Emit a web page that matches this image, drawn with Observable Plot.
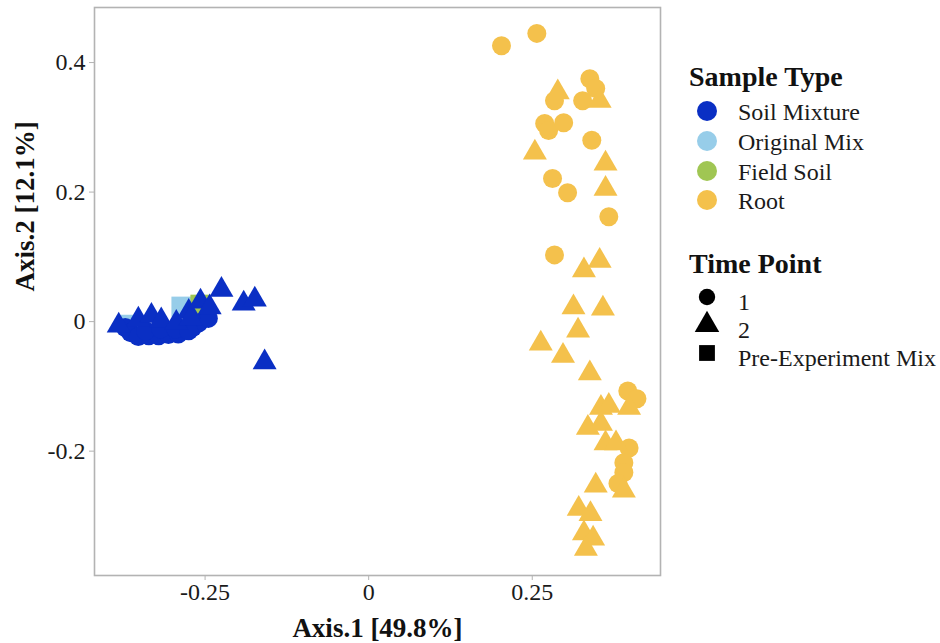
<!DOCTYPE html>
<html>
<head>
<meta charset="utf-8">
<script src="https://cdn.jsdelivr.net/npm/d3@7"></script>
<script src="https://cdn.jsdelivr.net/npm/@observablehq/plot@0.6"></script>
<style>
  html, body { margin: 0; padding: 0; background: white; }
  #wrap { position: relative; width: 940px; height: 643px; font-family: "Liberation Serif", serif; }
  #legend { position: absolute; left: 680px; top: 0; }
</style>
</head>
<body>
<div id="wrap"></div>
<script>
// ---- categories / styling keys ----
const sampleTypes = ["Soil Mixture", "Original Mix", "Field Soil", "Root"];
const sampleColors = ["#0a2fc4", "#97cde9", "#a0c653", "#f4c14c"];
const timePoints = ["1", "2", "Pre-Experiment Mix"];
const timeSymbols = ["circle", "triangle", "square"];

// ---- axis ticks ----
const xTicks = [-0.25, 0, 0.25];
const xTickLabels = ["-0.25", "0", "0.25"];
const yTicks = [-0.2, 0, 0.2, 0.4];
const yTickLabels = ["-0.2", "0", "0.2", "0.4"];
const xTitle = "Axis.1 [49.8%]";
const yTitle = "Axis.2 [12.1%]";

// ---- data: [Axis.1, Axis.2] ----
const originalMixPre = [[-0.286, 0.023], [-0.364, -0.005]];
const fieldSoilPre = [[-0.257, 0.026]];
const soilMixtureT1 = [
  [-0.372, -0.009], [-0.364, -0.017], [-0.352, -0.023], [-0.336, -0.022],
  [-0.321, -0.022], [-0.306, -0.020], [-0.291, -0.019], [-0.341, -0.014],
  [-0.318, -0.011], [-0.295, -0.011], [-0.269, -0.009], [-0.260, -0.002],
  [-0.245, 0.005], [-0.275, -0.014]
];
const soilMixtureT2 = [
  [-0.382, -0.006], [-0.352, 0.003], [-0.332, 0.009], [-0.317, 0.002],
  [-0.294, -0.002], [-0.275, 0.015], [-0.272, 0.005], [-0.257, 0.031],
  [-0.243, 0.022], [-0.225, 0.049], [-0.191, 0.028], [-0.174, 0.034],
  [-0.159, -0.063]
];
const rootT1 = [
  [0.203, 0.426], [0.257, 0.445], [0.338, 0.375], [0.347, 0.360],
  [0.327, 0.341], [0.284, 0.341], [0.269, 0.306], [0.275, 0.295],
  [0.298, 0.307], [0.341, 0.280], [0.281, 0.221], [0.304, 0.199],
  [0.367, 0.162], [0.284, 0.103], [0.396, -0.107], [0.410, -0.119],
  [0.398, -0.195], [0.390, -0.218], [0.390, -0.233], [0.381, -0.250]
];
const rootT2 = [
  [0.289, 0.354], [0.353, 0.341], [0.254, 0.261], [0.362, 0.244],
  [0.362, 0.205], [0.353, 0.094], [0.329, 0.079], [0.313, 0.022],
  [0.358, 0.020], [0.320, -0.014], [0.263, -0.034], [0.297, -0.053],
  [0.338, -0.080], [0.355, -0.133], [0.367, -0.130], [0.398, -0.133],
  [0.335, -0.164], [0.355, -0.158], [0.362, -0.188], [0.378, -0.188],
  [0.390, -0.261], [0.347, -0.253], [0.321, -0.289], [0.339, -0.297],
  [0.329, -0.327], [0.343, -0.335], [0.332, -0.351]
];

// ---- build table ----
const groups = [
  {rows: originalMixPre, type: "Original Mix", time: "Pre-Experiment Mix"},
  {rows: fieldSoilPre, type: "Field Soil", time: "Pre-Experiment Mix"},
  {rows: soilMixtureT1, type: "Soil Mixture", time: "1"},
  {rows: soilMixtureT2, type: "Soil Mixture", time: "2"},
  {rows: rootT1, type: "Root", time: "1"},
  {rows: rootT2, type: "Root", time: "2"}
];
const points = groups.flatMap(g => g.rows.map(([x, y]) => ({x, y, type: g.type, time: g.time})));
const symbolR = {"1": 9.5, "2": 8.9, "Pre-Experiment Mix": 11.4};

const dotMarks = groups.map(g =>
  Plot.dot(points.filter(p => p.type === g.type && p.time === g.time), {
    x: "x", y: "y", fill: "type", symbol: "time", r: symbolR[g.time], stroke: "none"
  })
);

const chart = Plot.plot({
  width: 940,
  height: 643,
  marginLeft: 94,
  marginRight: 280,
  marginTop: 7,
  marginBottom: 68,
  style: {fontFamily: "Liberation Serif", background: "white", color: "#1a1a1a", fontSize: "24px"},
  x: {domain: [-0.419, 0.446]},
  y: {domain: [-0.392, 0.485]},
  color: {domain: sampleTypes, range: sampleColors},
  symbol: {domain: timePoints, range: timeSymbols},
  marks: [
    ...dotMarks,
    Plot.frame({stroke: "#b3b3b3", strokeWidth: 1.6}),
    Plot.axisX({ticks: xTicks, tickFormat: d => xTickLabels[xTicks.indexOf(d)], tickSize: 5, tickPadding: 2,
      stroke: "#b3b3b3", fill: "#1a1a1a", fontSize: 24, label: null}),
    Plot.axisY({ticks: yTicks, tickFormat: d => yTickLabels[yTicks.indexOf(d)], tickSize: 5, tickPadding: 4,
      stroke: "#b3b3b3", fill: "#1a1a1a", fontSize: 24, label: null}),
    Plot.text([xTitle], {text: d => d, frameAnchor: "bottom", dy: 53, lineAnchor: "middle",
      fontSize: 27, fontWeight: "bold", fill: "#111"}),
    Plot.text([yTitle], {text: d => d, frameAnchor: "left", dx: -69, rotate: -90, lineAnchor: "middle",
      fontSize: 27, fontWeight: "bold", fill: "#111"})
  ]
});

d3.select(chart).selectAll('g[aria-label$="tick label"]').style("font-size", "24px");

const wrap = document.getElementById("wrap");
wrap.appendChild(chart);

// ---- legend ----
const lg = d3.create("svg").attr("id", "legend").attr("width", 260).attr("height", 643)
  .style("font-family", "Liberation Serif");
const ox = -680;
lg.append("text").attr("x", 689 + ox).attr("y", 86).attr("font-size", 28).attr("font-weight", "bold")
  .attr("fill", "#111").text("Sample Type");
const stY = [111, 141, 171, 200];
sampleTypes.forEach((t, i) => {
  lg.append("circle").attr("cx", 707 + ox).attr("cy", stY[i]).attr("r", 10).attr("fill", sampleColors[i]);
  lg.append("text").attr("x", 738 + ox).attr("y", stY[i] + 8.5).attr("font-size", 24).attr("fill", "#1a1a1a").text(t);
});
lg.append("text").attr("x", 689 + ox).attr("y", 273).attr("font-size", 28).attr("font-weight", "bold")
  .attr("fill", "#111").text("Time Point");
const tpY = [297, 325, 353];
const symSize = [210, 260, 250];
const d3Sym = [d3.symbolCircle, d3.symbolTriangle, d3.symbolSquare];
timePoints.forEach((t, i) => {
  lg.append("path").attr("transform", `translate(${707 + ox},${tpY[i]})`)
    .attr("d", d3.symbol(d3Sym[i], symSize[i])()).attr("fill", "black");
  lg.append("text").attr("x", 738 + ox).attr("y", tpY[i] + 13).attr("font-size", 24).attr("fill", "#1a1a1a").text(t);
});
wrap.appendChild(lg.node());
</script>
</body>
</html>
